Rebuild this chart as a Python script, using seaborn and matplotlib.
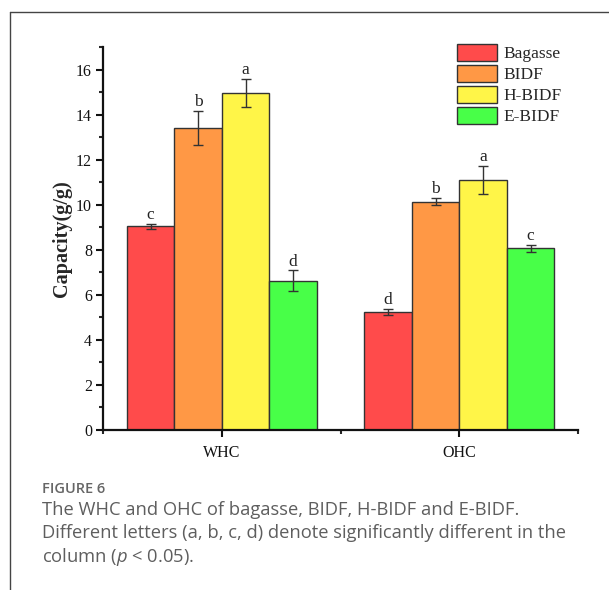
import matplotlib
matplotlib.use("Agg")
import matplotlib.pyplot as plt
from matplotlib.lines import Line2D
from matplotlib.ticker import MultipleLocator, FixedLocator
import seaborn as sns
import pandas as pd

# ---- data ----
categories = ["WHC", "OHC"]
samples = ["Bagasse", "BIDF", "H-BIDF", "E-BIDF"]
whc_mean = [9.04, 13.41, 14.96, 6.62]
whc_sd = [0.10, 0.76, 0.64, 0.47]
ohc_mean = [5.24, 10.13, 11.10, 8.07]
ohc_sd = [0.13, 0.16, 0.62, 0.16]
whc_letters = ["c", "b", "a", "d"]
ohc_letters = ["d", "b", "a", "c"]
colors = ["#FF4B4B", "#FF9845", "#FFF548", "#48FF48"]
y_label = "Capacity(g/g)"
caption_title = "FIGURE 6"
caption_lines = [
    "The WHC and OHC of bagasse, BIDF, H-BIDF and E-BIDF.",
    "Different letters (a, b, c, d) denote significantly different in the",
    "column ($p$ < 0.05).",
]

rows = []
for cat, means, sds, lets in [("WHC", whc_mean, whc_sd, whc_letters),
                              ("OHC", ohc_mean, ohc_sd, ohc_letters)]:
    for s, m, sd, l in zip(samples, means, sds, lets):
        rows.append({"cat": cat, "sample": s, "value": m, "sd": sd, "letter": l})
df = pd.DataFrame(rows)

sns.set_style("ticks")
plt.rcParams["font.family"] = ["Liberation Serif", "DejaVu Serif"]
plt.rcParams["mathtext.fontset"] = "custom"
plt.rcParams["mathtext.it"] = "Open Sans:italic"
plt.rcParams["mathtext.rm"] = "Open Sans"

W, H = 609, 590
fig = plt.figure(figsize=(W / 100, H / 100), dpi=100)
ax = fig.add_axes([103 / W, 1 - 430 / H, 475 / W, 383 / H])

sns.barplot(data=df, x="cat", y="value", hue="sample", order=categories,
            hue_order=samples, palette=colors, width=0.8, errorbar=None,
            edgecolor="#333333", linewidth=1.0, saturation=1, ax=ax)

bar_containers = list(ax.containers)
for i, cont in enumerate(bar_containers):
    s = samples[i]
    for j, bar in enumerate(cont.patches):
        row = df[(df["sample"] == s) & (df["cat"] == categories[j])].iloc[0]
        xc = bar.get_x() + bar.get_width() / 2
        ax.errorbar(xc, row["value"], yerr=row["sd"], fmt="none",
                    ecolor="#333333", elinewidth=1.0, capsize=3.5, capthick=1.0)
        ax.annotate(row["letter"], (xc, row["value"] + row["sd"]),
                    xytext=(0, 0.5), textcoords="offset points",
                    ha="center", va="bottom", fontsize=12.5, color="#222222")

ax.set_xlim(-0.5, 1.5)
ax.set_ylim(0, 17)
ax.yaxis.set_major_locator(MultipleLocator(2))
ax.yaxis.set_minor_locator(MultipleLocator(1))
ax.xaxis.set_minor_locator(FixedLocator([-0.5, 0.5, 1.5]))
ax.set_xlabel("")
ax.set_ylabel(y_label, fontsize=14.5, fontweight="bold", labelpad=3)
ax.tick_params(axis="both", which="major", direction="out", length=5,
               width=1.5, labelsize=11.5, colors="#111111", pad=3)
ax.tick_params(axis="both", which="minor", direction="out", length=3, width=1.5)
ax.tick_params(axis="x", which="major", pad=6)
sns.despine(ax=ax)
for sp in ["left", "bottom"]:
    ax.spines[sp].set_linewidth(1.6)
    ax.spines[sp].set_color("#111111")

sns.move_legend(ax, "upper left", bbox_to_anchor=(457 / W, 1 - 44 / H),
                bbox_transform=fig.transFigure, frameon=False, title=None,
                fontsize=12.5, handlelength=2.3, handleheight=1.15,
                labelspacing=0.14, handletextpad=0.35, borderpad=0,
                borderaxespad=0)

# frame
fig.add_artist(Line2D([10 / W, 1], [1 - 12 / H, 1 - 12 / H],
                      transform=fig.transFigure, color="#444444", lw=1))
fig.add_artist(Line2D([10 / W, 10 / W], [1 - 12 / H, 0],
                      transform=fig.transFigure, color="#444444", lw=1))

# caption
fig.text(42 / W, 1 - 492.7 / H, caption_title, family=["Open Sans", "DejaVu Sans"],
         fontweight="semibold", fontsize=10.5, color="#666666", va="baseline")
for k, line in enumerate(caption_lines):
    fig.text(42 / W, 1 - (515 + 23.3 * k) / H, line,
             family=["Open Sans", "DejaVu Sans"], fontsize=13.2,
             color="#5e5e5e", va="baseline")

fig.savefig("out.png", dpi=100)
